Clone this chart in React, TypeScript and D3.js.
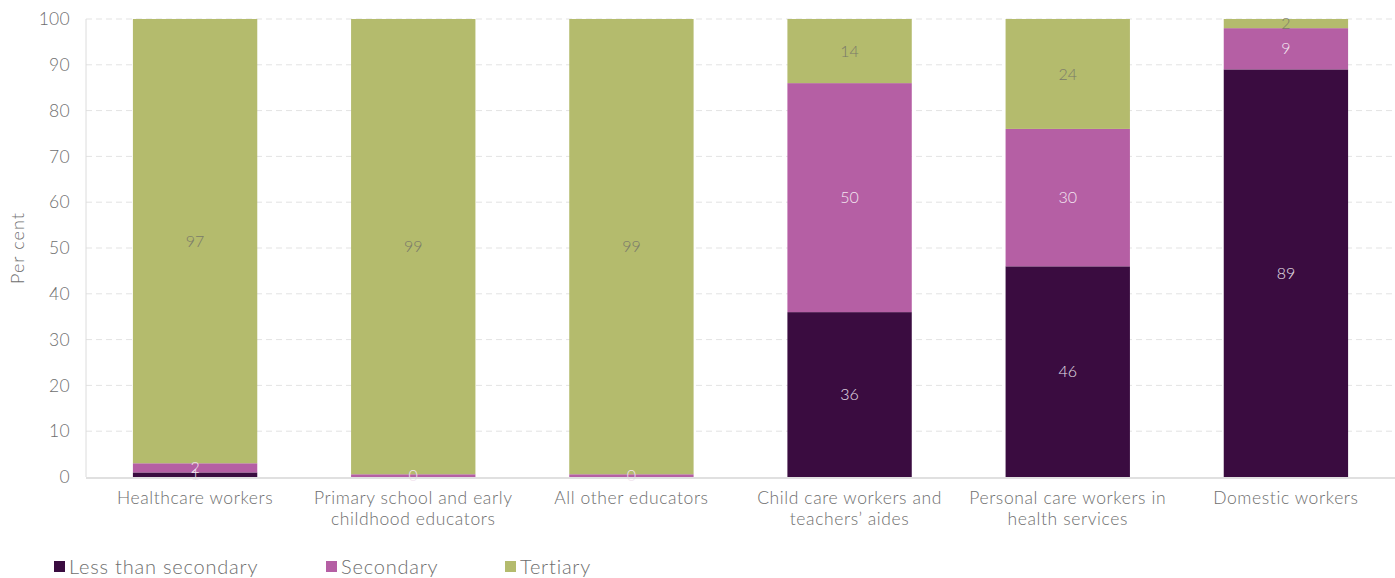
import React from "react";
import * as d3 from "d3";

const categories = [
  ["Healthcare workers"],
  ["Primary school and early", "childhood educators"],
  ["All other educators"],
  ["Child care workers and", "teachers’ aides"],
  ["Personal care workers in", "health services"],
  ["Domestic workers"],
];
const lessThanSecondary = [1, 0, 0, 36, 46, 89];
const secondary = [2, 0.6, 0.6, 50, 30, 9];
const tertiary = [97, 99.4, 99.4, 14, 24, 2];
const seriesNames = ["Less than secondary", "Secondary", "Tertiary"];
const yTicks = [0, 10, 20, 30, 40, 50, 60, 70, 80, 90, 100];

const colors = ["#3a0c40", "#b55fa4", "#b4bb6d"];
const labelColors = ["#e8e0ea", "#f3e6f0", "#7a7a6a"];
const FONT = "Lato, 'Open Sans', sans-serif";

export default function App() {
  const W = 1395, H = 578;
  const left = 86, right = 1395, top = 19, bottom = 477;
  const x = d3.scaleBand<number>().domain(d3.range(categories.length)).range([left, right]).paddingInner(0.43).paddingOuter(0.215);
  const y = d3.scaleLinear().domain([0, 100]).range([bottom, top]);
  const series = [lessThanSecondary, secondary, tertiary];
  const rows = categories.map((_, i) => ({ a: series[0][i], b: series[1][i], c: series[2][i] }));
  const stacked = d3.stack<any>().keys(["a", "b", "c"])(rows);
  const fmt = (v: number) => String(Math.floor(v + 1e-9));
  const legendX = [54, 326, 505];
  return (
    <svg width={W} height={H} style={{ position: "absolute", left: 0, top: 0, fontFamily: FONT }}>
      {yTicks.map((t) => (
        <g key={t}>
          {t > 0 && (
            <line x1={left} x2={right} y1={y(t)} y2={y(t)} stroke="#e3e3e3" strokeDasharray="6,4" />
          )}
          <text x={70} y={y(t)} dy="0.35em" textAnchor="end" fontSize={17.5} fill="#6e6e6e" fontWeight={300} letterSpacing={0.3}>
            {t}
          </text>
        </g>
      ))}
      <line x1={left} x2={left} y1={top} y2={bottom} stroke="#dcdcdc" />
      {stacked.map((s, si) => (
        <g key={si}>
          {s.map((d, i) => (
            <rect key={i} x={x(i)} width={x.bandwidth()} y={y(d[1])} height={y(d[0]) - y(d[1])} fill={colors[si]} />
          ))}
        </g>
      ))}
      {stacked.map((s, si) => (
        <g key={"l" + si}>
          {s.map((d, i) => {
            const v = series[si][i];
            if (v <= 0) return null;
            return (
              <text key={i} x={x(i)! + x.bandwidth() / 2} y={y((d[0] + d[1]) / 2)} dy="0.35em" textAnchor="middle" fontSize={16} fill={labelColors[si]} fontWeight={300}>
                {fmt(v)}
              </text>
            );
          })}
        </g>
      ))}
      <line x1={left} x2={right} y1={bottom + 1} y2={bottom + 1} stroke="#d6d6d6" strokeWidth={1.5} />
      {categories.map((lines, i) => (
        <text key={i} x={x(i)! + x.bandwidth() / 2} y={504} textAnchor="middle" fontSize={17.5} fill="#6e6e6e" fontWeight={300} letterSpacing={0.6}>
          {lines.map((l, j) => (
            <tspan key={j} x={x(i)! + x.bandwidth() / 2} dy={j === 0 ? 0 : 21}>{l}</tspan>
          ))}
        </text>
      ))}
      <text transform={`translate(24,${(top + bottom) / 2}) rotate(-90)`} textAnchor="middle" fontSize={18} fill="#6e6e6e" fontWeight={300} letterSpacing={1}>
        Per cent
      </text>
      {seriesNames.map((n, i) => (
        <g key={n}>
          <rect x={legendX[i]} y={561} width={11} height={11} fill={colors[i]} />
          <text x={legendX[i] + 15} y={567} dy="0.35em" fontSize={20} fill="#6e6e6e" fontWeight={300} letterSpacing={0.8}>{n}</text>
        </g>
      ))}
    </svg>
  );
}
